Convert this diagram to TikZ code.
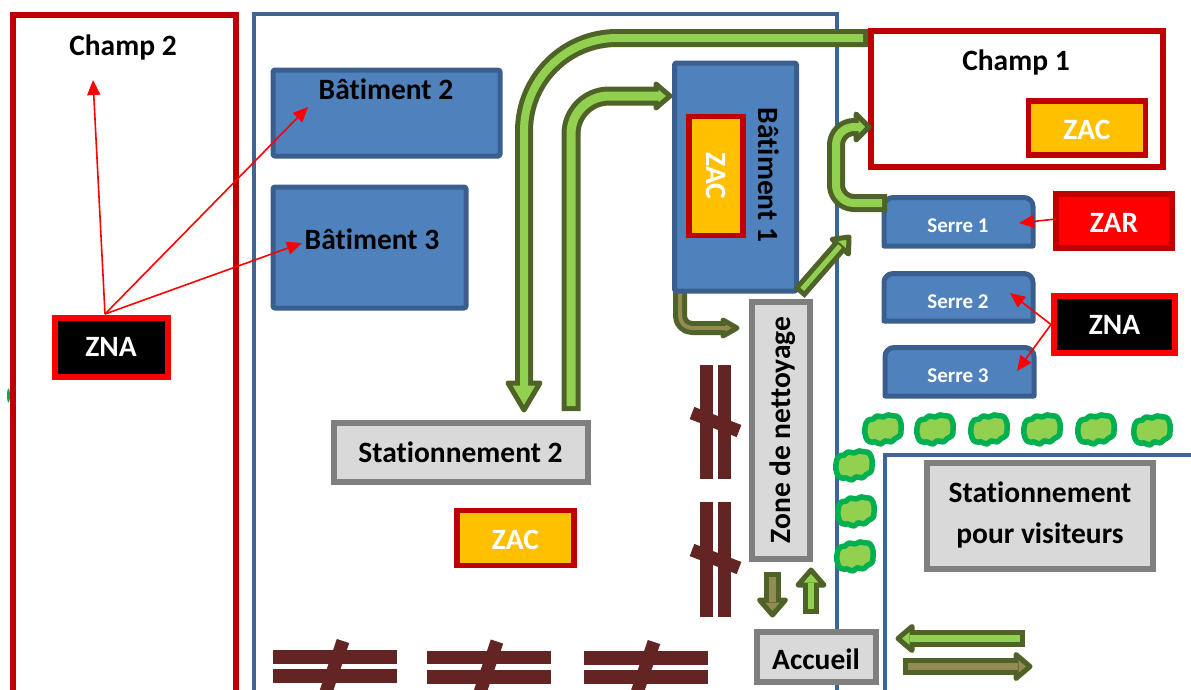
\documentclass[tikz,border=0pt]{standalone}
\usepackage{fontspec}
\setmainfont{Carlito}[BoldFont={Carlito Bold},Ligatures=CommonOff]
\usetikzlibrary{arrows.meta}
\definecolor{wallblue}{HTML}{3F6595}
\definecolor{bfill}{HTML}{4F81BD}
\definecolor{bline}{HTML}{3A5F8E}
\definecolor{dred}{HTML}{C00000}
\definecolor{amber}{HTML}{FFC000}
\definecolor{lgrey}{HTML}{D9D9D9}
\definecolor{mgrey}{HTML}{7F7F7F}
\definecolor{lgreen}{HTML}{92D050}
\definecolor{dgreen}{HTML}{4F6228}
\definecolor{tan}{HTML}{948A54}
\definecolor{barrier}{HTML}{632523}
\definecolor{bushline}{HTML}{00B050}
\newcommand{\flowarrow}[7]{%
  \draw[line width=#2pt,dgreen,line join=round] #3;
  \draw[draw=dgreen,fill=#1,line width=5pt,line join=round,shift={(#4)},rotate=#5] (0,0)--(-#6,#7)--(-#6,-#7)--cycle;
  \draw[line width=#2pt-10pt,#1,shorten <=5pt] #3;
}
\newcommand{\barrierH}[3]{% x1 x2 y
  \fill[barrier] (#1,#3) rectangle (#2,#3+13.5);
  \fill[barrier] (#1,#3+19) rectangle (#2,#3+33);
  \draw[barrier,line width=13pt] (#1+70,#3-9) -- (#1+51,#3+48);
}
\newcommand{\barrierV}[3]{% x y1 y2
  \fill[barrier] (#1,#2) rectangle (#1+13,#3);
  \fill[barrier] (#1+18,#2) rectangle (#1+31,#3);
  \draw[barrier,line width=13pt] (#1-8,#2+48) -- (#1+39,#2+66);
}
\newcommand{\serreshape}[4]{% x1 y1 x2 y2
  \draw[bld,rounded corners=0pt] (#1,#4) -- (#1,#2+9) .. controls (#1,#2+4) and (#1+4,#2) .. (#1+9,#2) -- (#3-9,#2) .. controls (#3-4,#2) and (#3,#2+4) .. (#3,#2+9) -- (#3,#4) -- cycle;
}
\newcommand{\lowtext}[1]{\raisebox{0pt}[\dimexpr\height+3pt\relax]{#1}}
\tikzset{
  x=1pt,y=-1pt,
  every node/.style={font=\bfseries,inner sep=0pt,align=center},
  wall/.style={draw=wallblue,line width=4pt},
  field/.style={draw=dred,line width=5.5pt},
  bld/.style={draw=bline,fill=bfill,line width=5pt,rounded corners=1.5pt,line join=round},
  greybox/.style={draw=mgrey,fill=lgrey,line width=6pt},
  zac/.style={draw=dred,fill=amber,line width=5.5pt,text=white,font=\bfseries\fontsize{29.5}{34}\selectfont},
  zar/.style={draw=dred,fill=red,line width=6pt,text=white,font=\bfseries\fontsize{29.5}{34}\selectfont},
  zna/.style={draw=red,fill=black,line width=6pt,text=white,font=\bfseries\fontsize{29.5}{34}\selectfont},
  big/.style={font=\bfseries\fontsize{29.5}{34}\selectfont,text=black},
  serre/.style={font=\bfseries\fontsize{21}{24}\selectfont,text=white},
  redarrow/.style={draw=red,line width=1.6pt,-{Triangle[length=15pt,width=13pt,fill=red]}},
  bush/.pic={\draw[draw=bushline,fill=lgreen,line width=5.5pt,line join=round,yscale=1.08]
    plot[smooth cycle,tension=0.85] coordinates {(-18,-2)(-15,-9)(-10,-10)(-6,-13)(0,-12)(5,-14)(11,-13)(15,-12)(18,-6)(18,0)(17,5)(12,8)(8,11)(2,10)(-2,13)(-8,11)(-13,11)(-17,7)};},
}
\begin{document}
\begin{tikzpicture}
\useasboundingbox (0,0) rectangle (1191,689);
\clip (0,0) rectangle (1191,689);
% walls
\draw[wall] (254,710) -- (254,14) -- (837,14) -- (837,710);
\draw[wall] (885,710) -- (885,455) -- (1200,455);
\draw[field] (13,710) -- (13,15) -- (236,15) -- (236,710);
\fill[bushline] (8.5,395.5) ellipse [x radius=1.5,y radius=7];
% fields
\node[field,minimum width=292,minimum height=136] (champA) at (1017,99) {};
\node[big] (champAt) at (1016,62) {Champ 1};
\node[big] (champBt) at (123,47) {Champ 2};
\node[zac,minimum width=117,minimum height=54] (zacA) at (1087,128) {\lowtext{ZAC}};
% buildings
\coordinate (brownS) at (680,280);
\coordinate (brownC) at (680,328);
\coordinate (brownE) at (726,328);
\coordinate (brownT) at (737,328);
\flowarrow{tan}{14}{[rounded corners=12pt] (brownS) -- (brownC) -- (brownE)}{brownT}{0}{14}{8}
\node[bld,minimum width=227,minimum height=86] (batB) at (386.5,113) {};
\node[big] (batBt) at (386,89) {Bâtiment 2};
\node[bld,minimum width=193,minimum height=121] (batC) at (369.5,247.5) {};
\node[big] (batCt) at (372,239) {Bâtiment 3};
\node[bld,minimum width=122,minimum height=228] (batA) at (735.5,177) {};
\node[big,rotate=-90] (batAt) at (769,175) {Bâtiment 1};
\node[zac,rotate=-90,minimum width=119,minimum height=54] (zacB) at (716,176) {ZAC};
% serres
\serreshape{884}{197.5}{1033}{246}
\serreshape{884}{273.5}{1033}{321}
\serreshape{885}{347.5}{1034}{396}
\node[serre] (serreA) at (958,226) {Serre 1};
\node[serre] (serreB) at (958,302) {Serre 2};
\node[serre] (serreC) at (958,376) {Serre 3};
% flow arrows
\coordinate (a1S) at (868,38);
\coordinate (a1C) at (524,38);
\coordinate (a1E) at (524,386);
\coordinate (a1T) at (524,410);
\flowarrow{lgreen}{18}{[rounded corners=93pt] (a1S) -- (a1C) -- (a1E)}{a1T}{-90}{27}{16}
\coordinate (a2S) at (571,411);
\coordinate (a2C) at (571,96);
\coordinate (a2E) at (660,96);
\coordinate (a2T) at (670,96);
\flowarrow{lgreen}{19}{[rounded corners=38pt] (a2S) -- (a2C) -- (a2E)}{a2T}{0}{14}{12}
\coordinate (a3S) at (887,203);
\coordinate (a3A) at (836,203);
\coordinate (a3B) at (836,127);
\coordinate (a3E) at (860,127);
\coordinate (a3T) at (869,127);
\flowarrow{lgreen}{18}{[rounded corners=18pt] (a3S) -- (a3A) -- (a3B) -- (a3E)}{a3T}{0}{13}{13}
\coordinate (a4S) at (799,293);
\coordinate (a4E) at (840,246);
\coordinate (a4T) at (849,237);
\flowarrow{lgreen}{15}{(a4S) -- (a4E)}{a4T}{48}{13}{11}
% boxes
\node[greybox,minimum width=254,minimum height=59] (statB) at (460.5,452) {\fontsize{29.5}{34}\selectfont Stationnement 2};
\node[zac,minimum width=117,minimum height=55] (zacC) at (515.5,538) {\lowtext{ZAC}};
\node[greybox,minimum width=58,minimum height=257] (zone) at (781,430) {};
\node[big,rotate=90] (zonet) at (782.5,430) {Zone de nettoyage};
\node[greybox,minimum width=119,minimum height=50] (accueil) at (816,656.5) {};
\node[big] (accueilt) at (816,659) {Accueil};
\node[greybox,minimum width=226,minimum height=106] (visit) at (1040,516) {};
\node[big] (visitA) at (1040,492) {Stationnement};
\node[big] (visitB) at (1040,535) {pour visiteurs};
\coordinate (a5S) at (772.5,572);
\coordinate (a5E) at (772.5,602);
\coordinate (a5T) at (772.5,615);
\flowarrow{tan}{17}{(a5S) -- (a5E)}{a5T}{-90}{15}{13}
\coordinate (a6S) at (811,614);
\coordinate (a6E) at (811,583);
\coordinate (a6T) at (811,570);
\flowarrow{lgreen}{16}{(a6S) -- (a6E)}{a6T}{90}{15}{13}
\coordinate (a7S) at (1025,638.5);
\coordinate (a7E) at (910,638.5);
\coordinate (a7T) at (898,638.5);
\flowarrow{lgreen}{17}{(a7S) -- (a7E)}{a7T}{180}{14}{12}
\coordinate (a8S) at (903,666.5);
\coordinate (a8E) at (1018,666.5);
\coordinate (a8T) at (1030,666.5);
\flowarrow{tan}{17}{(a8S) -- (a8E)}{a8T}{0}{14}{12}
% barriers
\barrierV{700}{365}{479}
\barrierV{700}{502}{617}
\barrierH{273}{397}{650}
\barrierH{427}{551}{650.5}
\barrierH{584}{708}{651}
% bushes
\pic at (883,430) {bush};
\pic at (935,430) {bush};
\pic at (989,430) {bush};
\pic at (1042,430) {bush};
\pic at (1096,430) {bush};
\pic at (1152,431) {bush};
\pic at (854,466) {bush};
\pic at (856,512) {bush};
\pic at (855,557) {bush};
% zones with red arrows
\node[zna,minimum width=113,minimum height=59] (znaL) at (111,347) {ZNA};
\node[zar,minimum width=116,minimum height=54] (zar) at (1114,221) {\lowtext{ZAR}};
\node[zna,minimum width=121,minimum height=57] (znaR) at (1114.5,324.5) {ZNA};
\coordinate (oL) at (105,314);
\coordinate (tChamp) at (93,80);
\coordinate (tBatB) at (308,107);
\coordinate (tBatC) at (302,243);
\coordinate (tS1) at (1019,223);
\coordinate (tS2) at (1010,293);
\coordinate (tS3) at (1017,371);
\coordinate (oZar) at (1056,219);
\draw[redarrow] (oL) -- (tChamp);
\draw[redarrow] (oL) -- (tBatB);
\draw[redarrow] (oL) -- (tBatC);
\draw[redarrow] (oZar) -- (tS1);
\draw[redarrow] (znaR.west) -- (tS2);
\draw[redarrow] (znaR.west) -- (tS3);
\end{tikzpicture}
\end{document}
